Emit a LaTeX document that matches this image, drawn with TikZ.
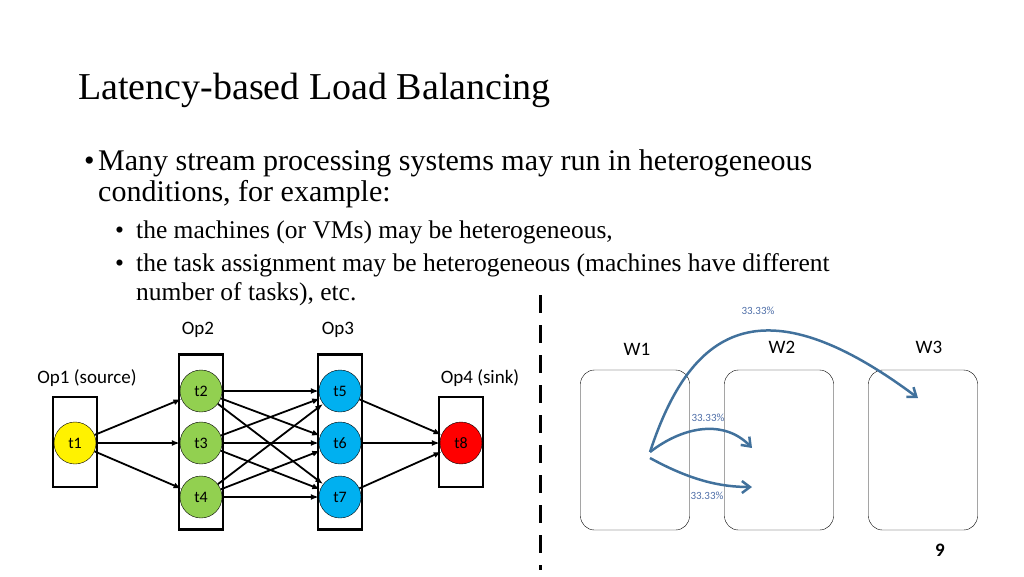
\documentclass[tikz,border=0pt]{standalone}
\usepackage{fontspec}
\setmainfont{Liberation Serif}
\setsansfont{Carlito}
\usetikzlibrary{arrows.meta}
\definecolor{flow}{RGB}{65,113,156}
\definecolor{pct}{RGB}{79,111,168}
\definecolor{optwo}{RGB}{146,208,80}
\definecolor{opthree}{RGB}{0,176,240}
\tikzset{
  task/.style={circle, draw=black, minimum size=42pt, inner sep=0pt, font=\sffamily\fontsize{16}{16}\selectfont},
  op/.style={draw=black, line width=2.5pt, minimum width=44pt},
  lbl/.style={font=\sffamily\fontsize{19}{19}\selectfont},
  edge/.style={-{Latex[length=8pt,width=6pt]}, line width=1.8pt},
  worker/.style={draw=black, rounded corners=14pt, minimum width=109pt, minimum height=160pt},
  share/.style={-{Straight Barb[length=8pt,width=12pt]}, line width=2.5pt, draw=flow},
  pc/.style={text=pct, font=\sffamily\fontsize{11}{11}\selectfont},
  big/.style={anchor=base west, font=\fontsize{30}{30}\selectfont},
  small/.style={anchor=base west, font=\fontsize{25.5}{25.5}\selectfont}
}
\begin{document}
\begin{tikzpicture}[x=1pt,y=-1pt]
    \useasboundingbox (0,0) rectangle (1024,576);

    % slide text
    \node [anchor=base west, inner sep=0pt, font=\fontsize{38}{38}\selectfont] (title) at (78,99) {Latency-based Load Balancing};
    \node [big, inner sep=0pt] at (84,170) {\textbullet};
    \node [big, inner sep=0pt] (b1) at (98,170) {Many stream processing systems may run in heterogeneous};
    \node [big, inner sep=0pt] (b1b) at (98,201) {conditions, for example:};
    \node [small, inner sep=0pt] at (115,238) {\textbullet};
    \node [small, inner sep=0pt] (s1) at (136,238) {the machines (or VMs) may be heterogeneous,};
    \node [small, inner sep=0pt] at (115,271) {\textbullet};
    \node [small, inner sep=0pt] (s2) at (136,271) {the task assignment may be heterogeneous (machines have different};
    \node [small, inner sep=0pt] (s2b) at (136,300) {number of tasks), etc.};

    \draw [line width=3pt, dash pattern=on 18pt off 12pt] (540,295) -- (540,570);

    % operators
    \node [op, minimum height=90pt] (op1) at (75,442) {};
    \node [op, minimum height=175pt] (op2) at (201,442) {};
    \node [op, minimum height=175pt] (op3) at (340,442) {};
    \node [op, minimum height=90pt] (op4) at (461,442) {};
    \node [lbl] at (87,378) {Op1 (source)};
    \node [lbl] at (198,330) {Op2};
    \node [lbl] at (338,330) {Op3};
    \node [lbl] at (480,378) {Op4 (sink)};

    \node [task, fill=yellow] (t1) at (75,443) {t1};
    \node [task, fill=optwo] (t2) at (201,391) {t2};
    \node [task, fill=optwo] (t3) at (201,443) {t3};
    \node [task, fill=optwo] (t4) at (201,497) {t4};
    \node [task, fill=opthree] (t5) at (340,391) {t5};
    \node [task, fill=opthree] (t6) at (340,443) {t6};
    \node [task, fill=opthree] (t7) at (340,497) {t7};
    \node [task, fill=red] (t8) at (461,443) {t8};

    \foreach \b in {t2,t3,t4} \draw [edge] (t1) -- (\b);
    \foreach \a in {t2,t3,t4}
      \foreach \b in {t5,t6,t7}
        \draw [edge] (\a) -- (\b);
    \foreach \a in {t5,t6,t7} \draw [edge] (\a) -- (t8);

    % workers
    \node [worker] (w1) at (635,450) {};
    \node [worker] (w2) at (779,450) {};
    \node [worker] (w3) at (923,450) {};
    \node [lbl] at (637,349) {W1};
    \node [lbl] at (782,347) {W2};
    \node [lbl] at (929,347) {W3};

    \coordinate (src) at (650,452);
    \coordinate (in2a) at (752,448);
    \coordinate (in2b) at (752,487);
    \coordinate (in3) at (918,398);
    \draw [share] (src) .. controls (690,330) and (760,280) .. (in3);
    \draw [share] (src) .. controls (685,425) and (725,420) .. (in2a);
    \draw [share] (650,458) .. controls (690,480) and (720,487) .. (in2b);
    \node [pc] at (758,311) {33.33\%};
    \node [pc] at (708,418) {33.33\%};
    \node [pc] at (707,496) {33.33\%};

    \node [font=\sffamily\bfseries\fontsize{19}{19}\selectfont] (page) at (940,550) {9};
\end{tikzpicture}
\end{document}
